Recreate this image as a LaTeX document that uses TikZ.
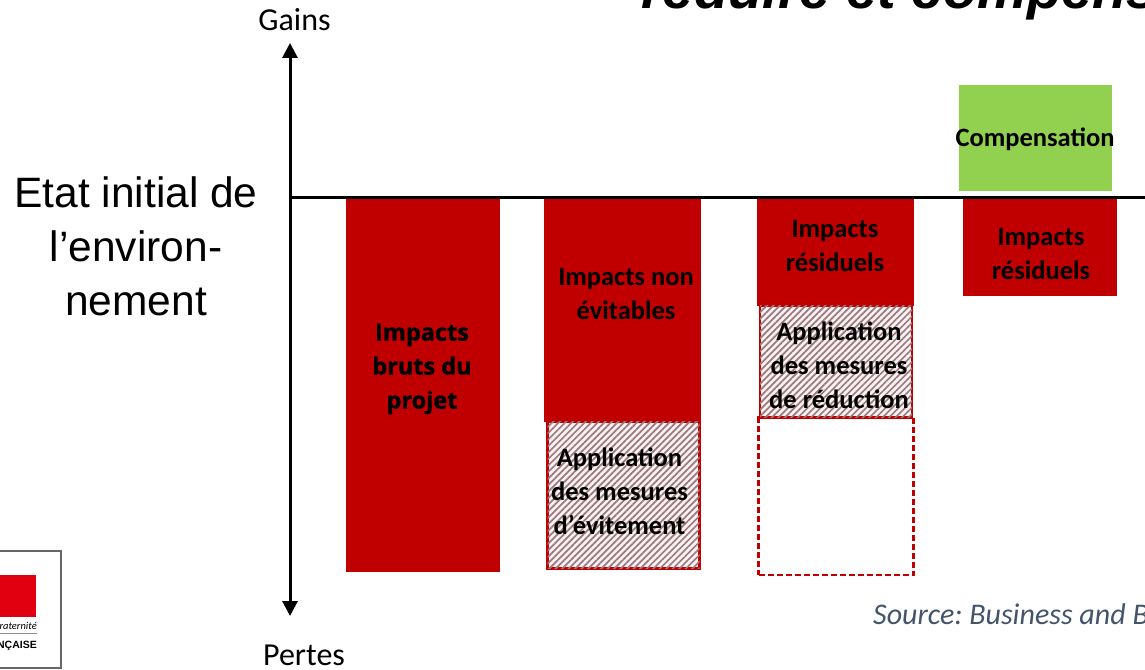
\documentclass[tikz,border=0pt]{standalone}
\usepackage{fontspec}
\setmainfont{Carlito}
\newfontfamily\arialf{Liberation Sans}
\newfontfamily\heavyf[UprightFont=* Bold,FakeBold=1.2]{Open Sans}
\usetikzlibrary{patterns.meta,arrows.meta}
\definecolor{impact}{HTML}{C00000}
\definecolor{gaingreen}{HTML}{92D050}
\definecolor{srcblue}{HTML}{44546A}
\definecolor{hatchc}{HTML}{9A7A7E}
\definecolor{hatchbg}{HTML}{FAF2F2}
\definecolor{logored}{HTML}{E1000F}
\tikzset{
  x=1pt,y=-1pt,
  solidbox/.style={fill=impact,draw=none,anchor=north west,inner sep=0pt,outer sep=0pt},
  hatchbox/.style={anchor=north west,inner sep=0pt,outer sep=0pt,draw=impact,line width=2.6pt,fill=hatchbg,
     postaction={pattern={Lines[angle=45,distance=4.6pt,line width=1.7pt]},pattern color=hatchc}},
  emptybox/.style={anchor=north west,inner sep=0pt,outer sep=0pt,draw=impact,line width=2.2pt,dash pattern=on 6pt off 3pt},
  lab/.style={font=\fontsize{26.5}{34}\selectfont\bfseries,align=center,text=black,inner sep=0pt},
  axisline/.style={line width=3pt,draw=black},
  axistext/.style={font=\fontsize{32}{36}\selectfont,inner sep=0pt},
}
\begin{document}
\frenchspacing
\begin{tikzpicture}
\useasboundingbox (0,0) rectangle (1145,669);
\clip (0,0) rectangle (1145,669);
% title
\node[anchor=base west,inner sep=0pt,font=\arialf\fontsize{56}{60}\selectfont\bfseries\itshape] (title) at (641,8.5) {réduire et compenser};
% boxes
\node[solidbox,minimum width=154pt,minimum height=374pt] (b1) at (346,198) {};
\node[solidbox,minimum width=157pt,minimum height=224pt] (b2) at (544,198) {};
\node[hatchbox,minimum width=152pt,minimum height=147pt] (h2) at (547.5,421.5) {};
\node[solidbox,minimum width=157pt,minimum height=108pt] (b3) at (757,198) {};
\node[emptybox,minimum width=155pt,minimum height=158pt] (e3) at (758.5,417) {};
\node[hatchbox,minimum width=152pt,minimum height=112pt] (h3) at (760,305.5) {};
\node[solidbox,minimum width=154pt,minimum height=99pt] (b4) at (963,197) {};
\node[anchor=north west,fill=gaingreen,inner sep=0pt,outer sep=0pt,minimum width=153pt,minimum height=106pt] (g4) at (959,85) {};
% axes
\coordinate (top) at (290,43);
\coordinate (bot) at (290,616);
\coordinate (hl) at (290,197);
\coordinate (hr) at (1145,197);
\draw[axisline,{Triangle[length=15pt,width=15pt]}-{Triangle[length=15pt,width=15pt]}] (top) -- (bot);
\draw[axisline] (hl) -- (hr);
% labels
\node[axistext] (gains) at (294.5,20) {Gains};
\node[axistext] (pertes) at (304,655) {Pertes};
\node[font=\arialf\fontsize{42.5}{54}\selectfont,align=center,inner sep=0pt] (etat) at (136,246) {Etat initial de\\l’environ-\\nement};
\node[lab,font=\fontsize{23.5}{34}\selectfont\heavyf] (t1) at (422,369) {Impacts\\bruts du\\projet};
\node[lab] (t2) at (626,294) {Impacts non\\évitables};
\node[lab] (t2b) at (619.5,491) {Application\\des mesures\\d’évitement};
\node[lab] (t3) at (835,246) {Impacts\\résiduels};
\node[lab] (t3b) at (839,365) {Application\\des mesures\\de réduction};
\node[lab] (t4) at (1041,254) {Impacts\\résiduels};
\node[lab] (t5) at (1035,139) {Compensation};
\node[anchor=base west,inner sep=0pt,text=srcblue,font=\fontsize{30}{32}\selectfont\itshape] (src) at (873,624) {Source: Business and Biodiversity};
% logo
\node[anchor=north west,draw=black!60,line width=1.2pt,fill=white,inner sep=0pt,outer sep=0pt,minimum width=71pt,minimum height=117pt] (logo) at (-10,551) {};
\node[anchor=north west,fill=logored,inner sep=0pt,outer sep=0pt,minimum width=46pt,minimum height=42pt] (logor) at (-10,574.5) {};
\coordinate (la) at (0,633);
\coordinate (lb) at (37,633);
\draw[black!45,line width=.8pt] (la) -- (lb);
\node[anchor=base east,inner sep=0pt,font=\fontsize{10.5}{11}\selectfont\itshape] (frat) at (37,629) {raternité};
\node[anchor=base east,inner sep=0pt,font=\arialf\fontsize{10.5}{11}\selectfont\bfseries] (rf) at (37,648) {NÇAISE};
\end{tikzpicture}
\end{document}
